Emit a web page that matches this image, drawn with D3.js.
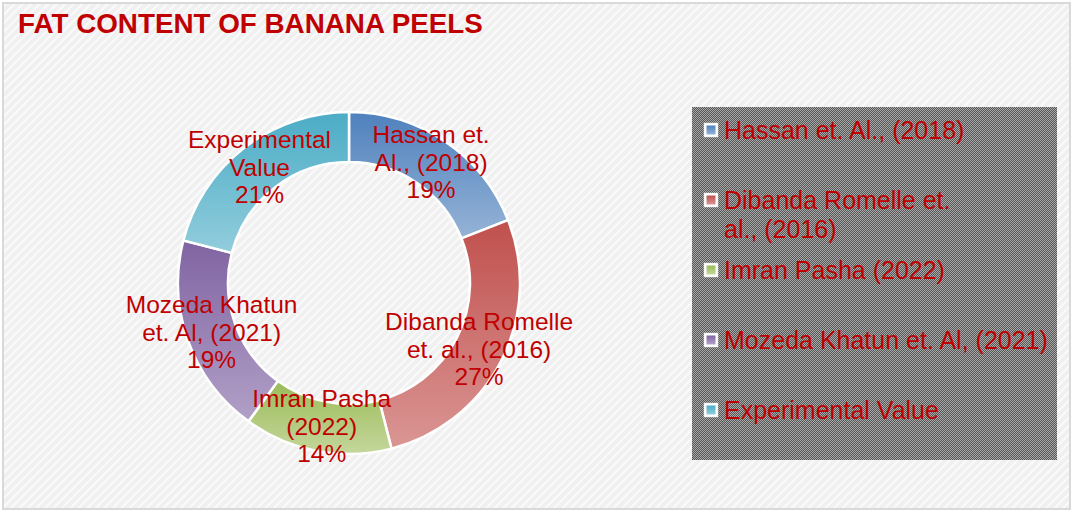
<!DOCTYPE html>
<html>
<head>
<meta charset="utf-8">
<script src="https://cdn.jsdelivr.net/npm/d3@7"></script>
<style>
  body { margin: 0; background: #fff; }
  svg { display: block; font-family: Arial, "Liberation Sans", sans-serif; }
</style>
</head>
<body>
<svg id="chart" width="1073" height="513"></svg>
<script>
// data
const categories = ["Hassan et. Al., (2018)", "Dibanda Romelle et. al., (2016)", "Imran Pasha (2022)", "Mozeda Khatun et. Al, (2021)", "Experimental Value"];
const values = [19, 27, 14, 19, 21];
const labelLines = [["Hassan et.", "Al., (2018)"], ["Dibanda Romelle", "et. al., (2016)"], ["Imran Pasha", "(2022)"], ["Mozeda Khatun", "et. Al, (2021)"], ["Experimental", "Value"]];
const legendLines = [["Hassan et. Al., (2018)"], ["Dibanda Romelle et.", "al., (2016)"], ["Imran Pasha (2022)"], ["Mozeda Khatun et. Al, (2021)"], ["Experimental Value"]];
const baseColors = ["#4f81bd", "#c0504d", "#9bbb59", "#8064a2", "#4bacc6"];
const lightColors = ["#95b3d7", "#da9694", "#c4d79b", "#b1a0c7", "#92cddc"];

const svg = d3.select("#chart");
const defs = svg.append("defs");

// striped background
const bg = defs.append("pattern").attr("id", "stripes")
    .attr("width", 6).attr("height", 6)
    .attr("patternUnits", "userSpaceOnUse")
    .attr("patternTransform", "rotate(45)");
bg.append("rect").attr("width", 6).attr("height", 6).attr("fill", "#f0f0f0");
bg.append("rect").attr("width", 2).attr("height", 6).attr("fill", "#fafafa");

// checkered legend
const chk = defs.append("pattern").attr("id", "checker")
    .attr("width", 2).attr("height", 2)
    .attr("patternUnits", "userSpaceOnUse");
chk.append("rect").attr("width", 2).attr("height", 2).attr("fill", "#555");
chk.append("rect").attr("width", 1).attr("height", 1).attr("fill", "#aaa");
chk.append("rect").attr("x", 1).attr("y", 1).attr("width", 1).attr("height", 1).attr("fill", "#aaa");

// slice gradients
baseColors.forEach((c, i) => {
    const g = defs.append("linearGradient").attr("id", "grad" + i)
        .attr("x1", 0).attr("y1", 0).attr("x2", 0).attr("y2", 1);
    g.append("stop").attr("offset", "0%").attr("stop-color", c);
    g.append("stop").attr("offset", "100%").attr("stop-color", lightColors[i]);
});

svg.append("rect").attr("x", 3).attr("y", 3).attr("width", 1067).attr("height", 506)
    .attr("fill", "url(#stripes)").attr("stroke", "#d9d9d9").attr("stroke-width", 2);

// title
svg.append("text").attr("x", 18).attr("y", 33)
    .text("FAT CONTENT OF BANANA PEELS")
    .attr("fill", "#c00000").style("font-weight", "bold").style("font-size", "27.8px");

// donut
const cx = 349, cy = 283, outerR = 171, innerR = 121;
const pie = d3.pie().sort(null).value(d => d);
const arcs = pie(values);
const arc = d3.arc().innerRadius(innerR).outerRadius(outerR);
const labelArc = d3.arc().innerRadius(146).outerRadius(146);
const total = d3.sum(values);

const g = svg.append("g").attr("transform", `translate(${cx},${cy})`);
g.selectAll("path")
    .data(arcs)
    .enter()
    .append("path")
    .attr("d", arc)
    .attr("fill", (d, i) => `url(#grad${i})`)
    .attr("stroke", "#fff")
    .attr("stroke-width", 2.5);

const lblSize = 24.5, lblLine = 27.5;
g.selectAll("text.lbl")
    .data(arcs)
    .enter()
    .append("text")
    .attr("class", "lbl")
    .attr("transform", d => `translate(${labelArc.centroid(d)})`)
    .attr("text-anchor", "middle")
    .attr("fill", "#c00000")
    .style("font-size", lblSize + "px")
    .each(function(d, i) {
        const lines = labelLines[i].concat([Math.round(d.value / total * 100) + "%"]);
        const t = d3.select(this);
        lines.forEach((ln, k) => {
            t.append("tspan").attr("x", 0)
                .attr("y", (k - (lines.length - 1) / 2) * lblLine + lblSize * 0.34)
                .text(ln);
        });
    });

// legend
const lx = 692, ly = 107;
svg.append("rect").attr("x", lx).attr("y", ly).attr("width", 365).attr("height", 353)
    .attr("fill", "url(#checker)");

const legY = d3.scalePoint().domain(categories).range([130, 410]);
const leg = svg.append("g").selectAll("g")
    .data(categories)
    .enter()
    .append("g")
    .attr("transform", d => `translate(0,${legY(d)})`);
leg.append("rect").attr("x", 704).attr("y", -7).attr("width", 14).attr("height", 14)
    .attr("fill", "#fff").attr("stroke", "#ddd").attr("stroke-width", 0.5);
leg.append("rect").attr("x", 706.5).attr("y", -4.5).attr("width", 9).attr("height", 9)
    .attr("fill", (d, i) => `url(#grad${i})`);
leg.append("text")
    .attr("fill", "#c00000")
    .style("font-size", "25px")
    .each(function(d, i) {
        const t = d3.select(this);
        legendLines[i].forEach((ln, k) => {
            t.append("tspan").attr("x", 724).attr("y", k * 29 + 9).text(ln);
        });
    });
</script>
</body>
</html>
